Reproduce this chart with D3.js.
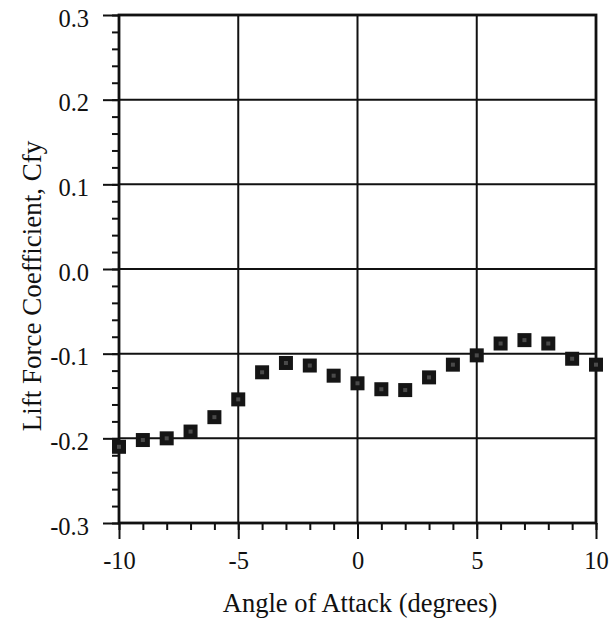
<!DOCTYPE html>
<html>
<head>
<meta charset="utf-8">
<script src="https://cdn.jsdelivr.net/npm/d3@7"></script>
<style>
  html, body { margin: 0; padding: 0; background: #fff; }
  svg text { font-family: "Liberation Serif", "DejaVu Serif", serif; fill: #111; }
</style>
</head>
<body>
<svg id="chart" width="614" height="624"></svg>
<script>
// Angle of attack (degrees) and measured lift force coefficient
const angles = [-10, -9, -8, -7, -6, -5, -4, -3, -2, -1, 0, 1, 2, 3, 4, 5, 6, 7, 8, 9, 10];
const cfy = [-0.210, -0.202, -0.200, -0.192, -0.175, -0.154, -0.122, -0.111, -0.114, -0.126,
             -0.135, -0.142, -0.143, -0.128, -0.113, -0.102, -0.088, -0.084, -0.088, -0.106, -0.113];

const xTicks = [-10, -5, 0, 5, 10];
const xTickLabels = ["-10", "-5", "0", "5", "10"];
const yTicks = [0.3, 0.2, 0.1, 0.0, -0.1, -0.2, -0.3];
const yTickLabels = ["0.3", "0.2", "0.1", "0.0", "-0.1", "-0.2", "-0.3"];
const xMinor = d3.range(-10, 10.5, 1);
const yMinor = d3.range(-0.3, 0.3001, 0.02);

const svg = d3.select("#chart");
const plotLeft = 119, plotRight = 596, plotTop = 15, plotBottom = 523;

const x = d3.scaleLinear().domain([-10, 10]).range([plotLeft, plotRight]);
const y = d3.scaleLinear().domain([-0.3, 0.3]).range([plotBottom, plotTop]);

// grid lines at the inner major ticks
const grid = svg.append("g");
grid.selectAll("line.gx").data(xTicks.slice(1, -1)).join("line")
  .attr("class", "gx")
  .attr("x1", d => x(d)).attr("x2", d => x(d))
  .attr("y1", plotTop).attr("y2", plotBottom)
  .attr("stroke", "#111").attr("stroke-width", 2);
grid.selectAll("line.gy").data(yTicks.slice(1, -1)).join("line")
  .attr("class", "gy")
  .attr("x1", plotLeft).attr("x2", plotRight)
  .attr("y1", d => y(d)).attr("y2", d => y(d))
  .attr("stroke", "#111").attr("stroke-width", 2);

// frame
svg.append("rect")
  .attr("x", plotLeft).attr("y", plotTop)
  .attr("width", plotRight - plotLeft).attr("height", plotBottom - plotTop)
  .attr("fill", "none").attr("stroke", "#111").attr("stroke-width", 2.8);

function styleAxis(s) {
  s.attr("font-family", null).attr("font-size", null);
  s.select(".domain").remove();
  s.selectAll("line").attr("stroke", "#111").attr("stroke-width", 2);
  s.selectAll("text").attr("fill", "#111")
    .style("font-size", "24.5px")
    .style("font-family", "'Liberation Serif', serif");
}

// y axis: minor + major ticks pointing outward
svg.append("g").attr("transform", `translate(${plotLeft},0)`)
  .call(d3.axisLeft(y).tickValues(yMinor).tickSize(7).tickFormat(""))
  .call(styleAxis);
svg.append("g").attr("transform", `translate(${plotLeft},0)`)
  .call(d3.axisLeft(y).tickValues(yTicks).tickSize(16).tickPadding(14)
    .tickFormat((d, i) => yTickLabels[i]))
  .call(styleAxis)
  .call(s => s.selectAll("text").attr("dy", "0.45em"));

// x axis: minor + major ticks pointing outward
svg.append("g").attr("transform", `translate(0,${plotBottom})`)
  .call(d3.axisBottom(x).tickValues(xMinor).tickSize(7).tickFormat(""))
  .call(styleAxis);
svg.append("g").attr("transform", `translate(0,${plotBottom})`)
  .call(d3.axisBottom(x).tickValues(xTicks).tickSize(16).tickPadding(13)
    .tickFormat((d, i) => xTickLabels[i]))
  .call(styleAxis);

// square markers
const size = 14;
svg.append("g").selectAll("rect").data(angles).join("rect")
  .attr("x", d => x(d) - size / 2)
  .attr("y", (d, i) => y(cfy[i]) - size / 2)
  .attr("width", size).attr("height", size)
  .attr("fill", "#151515");
svg.append("g").selectAll("rect").data(angles).join("rect")
  .attr("x", d => x(d) - 2)
  .attr("y", (d, i) => y(cfy[i]) - 2)
  .attr("width", 4).attr("height", 4)
  .attr("fill", "#4a4a4a");

// axis titles
svg.append("text")
  .attr("x", 360).attr("y", 612)
  .attr("text-anchor", "middle").style("font-size", "26.5px")
  .text("Angle of Attack (degrees)");
svg.append("text")
  .attr("transform", "translate(41,286) rotate(-90)")
  .attr("text-anchor", "middle").style("font-size", "27px")
  .text("Lift Force Coefficient, Cfy");
</script>
</body>
</html>
